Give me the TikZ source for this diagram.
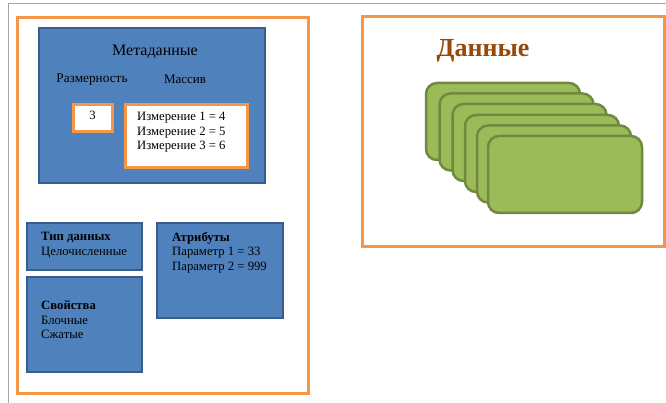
\documentclass[tikz,border=0pt]{standalone}
\usepackage{fontspec}
\setmainfont{Liberation Serif}
\definecolor{boxblue}{RGB}{79,129,189}
\definecolor{boxblueline}{RGB}{56,93,138}
\definecolor{frameorange}{RGB}{247,150,70}
\definecolor{cardgreen}{RGB}{155,187,89}
\definecolor{cardline}{RGB}{113,137,63}
\definecolor{titlebrown}{RGB}{152,72,7}
\definecolor{pagegray}{RGB}{165,165,165}
\tikzset{
  frame/.style={draw=frameorange,line width=3pt,fill=white},
  bluebox/.style={draw=boxblueline,line width=2.5pt,fill=boxblue},
  valuebox/.style={draw=frameorange,line width=3pt,fill=white},
  card/.style={draw=cardline,line width=2.5pt,fill=cardgreen,rounded corners=11pt},
  txt/.style={inner sep=0pt,font=\fontsize{12.7}{14.5}\selectfont,align=left},
}
\begin{document}
\begin{tikzpicture}[x=1pt,y=-1pt]
\useasboundingbox[fill=white] (0,0) rectangle (666,403);
% page edges
\draw[pagegray,line width=1pt] (8,403) -- (8,4) -- (666,4);

% left frame: metadata
\draw[frame] (17,18) rectangle (308,393);
\draw[bluebox] (39,28) rectangle (265,183);
\node[txt,font=\fontsize{16}{18}\selectfont] (meta) at (155,52) {Метаданные};
\node[txt,font=\fontsize{13.3}{15}\selectfont] (rank) at (92,80) {Размерность};
\node[txt,font=\fontsize{13}{15}\selectfont] (arr) at (185,79) {Массив};
\draw[valuebox] (73,105) rectangle (112,132);
\node[txt,anchor=north] (rankval) at (92.5,111) {3};
\draw[valuebox] (125,105) rectangle (247,168);
\node[txt,anchor=north west] (dims) at (137,112) {Измерение 1 = 4\\Измерение 2 = 5\\Измерение 3 = 6};

\draw[bluebox] (27,223) rectangle (142,270);
\node[txt,anchor=north west] (dtype) at (41,232) {\textbf{Тип данных}\\Целочисленные};
\draw[bluebox] (27,277) rectangle (142,372);
\node[txt,anchor=north west] (props) at (41,301) {\textbf{Свойства}\\Блочные\\Сжатые};
\draw[bluebox] (157,223) rectangle (283,318);
\node[txt,anchor=north west] (attrs) at (172,232) {\textbf{Атрибуты}\\Параметр 1 = 33\\Параметр 2 = 999};

% right frame: data
\draw[frame] (362,17) rectangle (664,247);
\node[txt,font=\fontsize{26}{28}\selectfont\bfseries,text=titlebrown] (data) at (483,51) {Данные};
\foreach \dx/\dy in {0/0,13.5/10.5,26.5/21,39/32,51/42.5,62/53}{
  \draw[card] (426+\dx,83+\dy) rectangle (580+\dx,160+\dy);
}
\end{tikzpicture}
\end{document}
